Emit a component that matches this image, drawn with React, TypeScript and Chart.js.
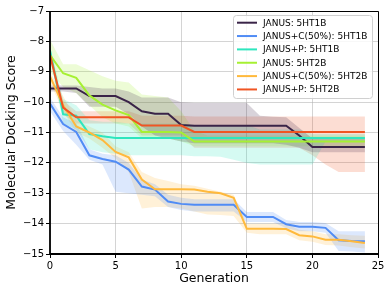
import React, { useEffect, useRef } from "react";
import { Chart, registerables } from "chart.js";

Chart.register(...registerables);

const generations = [0, 1, 2, 3, 4, 5, 6, 7, 8, 9, 10, 11, 12, 13, 14, 15, 16, 17, 18, 19, 20, 21, 22, 23, 24];
const xTicks = [0, 5, 10, 15, 20, 25];
const yTicks = [-15, -14, -13, -12, -11, -10, -9, -8, -7];

const seriesLabels = [
  "JANUS: 5HT1B",
  "JANUS+C(50%): 5HT1B",
  "JANUS+P: 5HT1B",
  "JANUS: 5HT2B",
  "JANUS+C(50%): 5HT2B",
  "JANUS+P: 5HT2B",
];
const seriesColors = [
  [58, 36, 72],
  [80, 140, 245],
  [46, 230, 190],
  [166, 240, 50],
  [255, 185, 60],
  [240, 85, 35],
];

const janus1BMean = [-9.55, -9.55, -9.55, -9.8, -9.8, -9.8, -10.0, -10.3, -10.38, -10.38, -10.75, -10.78, -10.78, -10.78, -10.78, -10.78, -10.78, -10.78, -10.78, -11.1, -11.48, -11.48, -11.48, -11.48, -11.48];
const janus1BUpper = [-9.45, -9.45, -9.45, -9.5, -9.55, -9.55, -9.65, -9.85, -9.85, -9.85, -10.0, -10.03, -10.03, -10.03, -10.03, -10.03, -10.45, -10.48, -10.5, -10.85, -11.2, -11.2, -11.2, -11.2, -11.2];
const janus1BLower = [-9.65, -9.65, -9.7, -10.15, -10.15, -10.15, -10.4, -10.8, -11.1, -11.2, -11.3, -11.35, -11.35, -11.35, -11.35, -11.35, -11.35, -11.35, -11.4, -11.5, -11.65, -11.65, -11.65, -11.65, -11.65];

const janusC1BMean = [-10.05, -10.72, -10.98, -11.75, -11.87, -11.96, -12.22, -12.78, -12.88, -13.27, -13.35, -13.38, -13.38, -13.38, -13.38, -13.78, -13.78, -13.78, -14.02, -14.1, -14.1, -14.14, -14.55, -14.57, -14.58];
const janusC1BUpper = [-9.85, -10.5, -10.7, -11.55, -11.7, -11.75, -12.0, -12.55, -12.7, -13.05, -13.15, -13.2, -13.2, -13.2, -13.2, -13.62, -13.62, -13.62, -13.88, -13.95, -13.95, -13.98, -14.25, -14.25, -14.25];
const janusC1BLower = [-10.3, -10.95, -11.4, -11.9, -12.05, -12.95, -13.0, -13.05, -13.1, -13.45, -13.55, -13.6, -13.6, -13.6, -13.6, -13.95, -13.95, -13.95, -14.15, -14.25, -14.25, -14.3, -14.9, -14.92, -14.95];

const janusP1BMean = [-8.3, -10.4, -10.45, -11.05, -11.12, -11.18, -11.18, -11.18, -11.18, -11.18, -11.18, -11.18, -11.18, -11.18, -11.18, -11.18, -11.18, -11.18, -11.18, -11.18, -11.18, -11.18, -11.18, -11.18, -11.18];
const janusP1BUpper = [-8.2, -9.9, -10.1, -10.6, -10.65, -10.65, -10.7, -10.7, -10.7, -10.7, -10.7, -10.75, -10.75, -10.75, -10.75, -10.75, -10.9, -10.9, -10.9, -10.9, -11.05, -11.05, -11.05, -11.05, -11.05];
const janusP1BLower = [-8.5, -10.7, -10.9, -11.55, -11.65, -11.7, -11.75, -11.75, -11.75, -11.75, -11.75, -11.78, -11.78, -11.8, -11.9, -12.0, -12.05, -12.05, -12.05, -12.05, -12.05, -11.3, -11.3, -11.3, -11.3];

const janus2BMean = [-8.45, -9.05, -9.2, -9.78, -10.08, -10.27, -10.43, -10.98, -10.98, -10.98, -11.0, -11.3, -11.3, -11.3, -11.3, -11.3, -11.3, -11.3, -11.3, -11.3, -11.3, -11.3, -11.3, -11.3, -11.3];
const janus2BUpper = [-7.95, -8.75, -8.75, -8.95, -9.15, -9.3, -9.35, -9.75, -9.8, -9.85, -10.3, -10.95, -11.1, -11.1, -11.1, -11.1, -11.1, -11.1, -11.1, -11.1, -11.1, -11.1, -11.1, -11.1, -11.1];
const janus2BLower = [-9.0, -9.5, -9.7, -10.1, -10.5, -10.7, -10.8, -11.2, -11.2, -11.2, -11.3, -11.45, -11.45, -11.45, -11.45, -11.45, -11.45, -11.45, -11.45, -11.45, -11.45, -11.45, -11.45, -11.45, -11.45];

const janusC2BMean = [-9.15, -10.1, -10.8, -11.0, -11.25, -11.64, -11.82, -12.55, -12.87, -12.87, -12.87, -12.88, -12.95, -13.0, -13.15, -14.17, -14.17, -14.17, -14.18, -14.38, -14.42, -14.53, -14.53, -14.58, -14.64];
const janusC2BUpper = [-9.0, -9.8, -10.6, -10.8, -11.0, -11.45, -11.65, -12.3, -12.5, -12.6, -12.7, -12.75, -12.85, -12.95, -13.05, -14.0, -14.0, -14.0, -14.0, -14.2, -14.25, -14.35, -14.35, -14.38, -14.4];
const janusC2BLower = [-9.35, -10.3, -11.0, -11.2, -11.5, -11.85, -12.3, -13.5, -13.45, -13.45, -13.5, -13.6, -13.7, -13.72, -13.75, -14.3, -14.35, -14.35, -14.35, -14.55, -14.6, -14.7, -14.72, -14.78, -14.82];

const janusP2BMean = [-8.45, -10.18, -10.5, -10.5, -10.5, -10.5, -10.5, -10.77, -10.77, -10.77, -10.77, -10.98, -10.98, -10.98, -10.98, -10.98, -10.98, -10.98, -10.98, -10.98, -10.98, -10.98, -10.98, -10.98, -10.98];
const janusP2BUpper = [-8.4, -9.95, -10.3, -10.3, -10.3, -10.3, -10.3, -10.45, -10.45, -10.45, -10.45, -10.47, -10.47, -10.47, -10.47, -10.47, -10.47, -10.47, -10.47, -10.47, -10.47, -10.47, -10.47, -10.47, -10.47];
const janusP2BLower = [-8.6, -10.4, -10.7, -10.7, -10.7, -10.7, -10.7, -11.1, -11.1, -11.1, -11.1, -11.5, -11.5, -11.5, -11.5, -11.5, -11.5, -11.5, -11.5, -11.5, -11.75, -12.05, -12.3, -12.3, -12.3];

const means = [janus1BMean, janusC1BMean, janusP1BMean, janus2BMean, janusC2BMean, janusP2BMean];
const uppers = [janus1BUpper, janusC1BUpper, janusP1BUpper, janus2BUpper, janusC2BUpper, janusP2BUpper];
const lowers = [janus1BLower, janusC1BLower, janusP1BLower, janus2BLower, janusC2BLower, janusP2BLower];

const FONT = "'DejaVu Sans', sans-serif";
const rgba = (c: number[], a: number) => `rgba(${c[0]},${c[1]},${c[2]},${a})`;
const toPts = (arr: number[]) => arr.map((v, i) => ({ x: generations[i], y: v }));
const fmt = (v: number) => (v < 0 ? "\u2212" + Math.abs(v) : String(v));

const framePlugin = {
  id: "frame",
  afterDatasetsDraw(chart: any) {
    const { ctx, chartArea: a } = chart;
    ctx.save();
    ctx.strokeStyle = "#000";
    ctx.lineWidth = 1;
    ctx.beginPath();
    ctx.moveTo(a.left, a.top + 0.5);
    ctx.lineTo(a.right + 0.5, a.top + 0.5);
    ctx.lineTo(a.right + 0.5, a.bottom);
    ctx.stroke();
    ctx.lineWidth = 1.8;
    ctx.beginPath();
    ctx.moveTo(a.left, a.top);
    ctx.lineTo(a.left, a.bottom);
    ctx.lineTo(a.right + 1, a.bottom);
    ctx.stroke();
    ctx.restore();
  },
};

const legendPlugin = {
  id: "mplLegend",
  afterDraw(chart: any) {
    const { ctx } = chart;
    const x0 = 233.5, y0 = 15.5, w = 139, h = 83, r = 3;
    ctx.save();
    ctx.fillStyle = "rgba(255,255,255,0.85)";
    ctx.strokeStyle = "#d0d0d0";
    ctx.lineWidth = 1;
    ctx.beginPath();
    ctx.moveTo(x0 + r, y0);
    ctx.lineTo(x0 + w - r, y0);
    ctx.arcTo(x0 + w, y0, x0 + w, y0 + r, r);
    ctx.lineTo(x0 + w, y0 + h - r);
    ctx.arcTo(x0 + w, y0 + h, x0 + w - r, y0 + h, r);
    ctx.lineTo(x0 + r, y0 + h);
    ctx.arcTo(x0, y0 + h, x0, y0 + h - r, r);
    ctx.lineTo(x0, y0 + r);
    ctx.arcTo(x0, y0, x0 + r, y0, r);
    ctx.closePath();
    ctx.fill();
    ctx.stroke();
    ctx.font = `9px ${FONT}`;
    ctx.textBaseline = "middle";
    ctx.textAlign = "left";
    seriesLabels.forEach((lab, i) => {
      const yy = 22.7 + i * 13.35;
      ctx.strokeStyle = rgba(seriesColors[i], 1);
      ctx.lineWidth = 2;
      ctx.beginPath();
      ctx.moveTo(237, yy);
      ctx.lineTo(257, yy);
      ctx.stroke();
      ctx.fillStyle = "#000";
      ctx.fillText(lab, 263, yy + 0.5);
    });
    ctx.restore();
  },
};

export default function App() {
  const ref = useRef<HTMLCanvasElement>(null);
  useEffect(() => {
    if (!ref.current) return;
    const datasets: any[] = [];
    seriesLabels.forEach((lab, i) => {
      datasets.push({
        label: lab + " upper",
        data: toPts(uppers[i]),
        borderColor: "rgba(0,0,0,0)",
        borderWidth: 0,
        pointRadius: 0,
        fill: false,
        order: 100 + i,
      });
      datasets.push({
        label: lab + " lower",
        data: toPts(lowers[i]),
        borderColor: "rgba(0,0,0,0)",
        backgroundColor: rgba(seriesColors[i], 0.2),
        borderWidth: 0,
        pointRadius: 0,
        fill: "-1",
        order: 100 + i,
      });
    });
    seriesLabels.forEach((lab, i) => {
      datasets.push({
        label: lab,
        data: toPts(means[i]),
        borderColor: rgba(seriesColors[i], 1),
        borderWidth: 2,
        pointRadius: 0,
        fill: false,
        tension: 0,
        order: 20 - i,
      });
    });
    const chart = new Chart(ref.current, {
      type: "line",
      data: { datasets },
      options: {
        animation: false,
        responsive: false,
        devicePixelRatio: 1,
        layout: { padding: { top: 11, right: 13, left: 0, bottom: 0 } },
        plugins: { legend: { display: false }, tooltip: { enabled: false } },
        scales: {
          x: {
            type: "linear",
            min: 0,
            max: 25,
            afterFit: (s: any) => { s.height = 39; },
            afterBuildTicks: (s: any) => { s.ticks = xTicks.map((v) => ({ value: v })); },
            ticks: { color: "#000", font: { family: FONT, size: 10 }, padding: 2, maxRotation: 0, callback: (v: any) => fmt(Number(v)) },
            grid: { color: "rgba(176,176,176,0.55)", lineWidth: 1, tickLength: 4, tickColor: "#000" },
            border: { display: false },
            title: { display: true, text: "Generation", color: "#000", font: { family: FONT, size: 12.5 }, padding: { top: 0, bottom: 7 } },
          },
          y: {
            type: "linear",
            min: -15,
            max: -7,
            afterFit: (s: any) => { s.width = 50; },
            afterBuildTicks: (s: any) => { s.ticks = yTicks.map((v) => ({ value: v })); },
            ticks: { color: "#000", font: { family: FONT, size: 10 }, padding: 2, callback: (v: any) => fmt(Number(v)) },
            grid: { color: "rgba(176,176,176,0.55)", lineWidth: 1, tickLength: 4, tickColor: "#000" },
            border: { display: false },
            title: { display: true, text: "Molecular Docking Score", color: "#000", font: { family: FONT, size: 12.5 }, padding: { top: 4, bottom: 0 } },
          },
        },
      },
      plugins: [framePlugin, legendPlugin],
    });
    return () => chart.destroy();
  }, []);
  return (
    <div style={{ position: "fixed", left: 0, top: 0, width: 391, height: 293, background: "#fff" }}>
      <canvas ref={ref} width={391} height={293} style={{ display: "block" }} />
    </div>
  );
}
